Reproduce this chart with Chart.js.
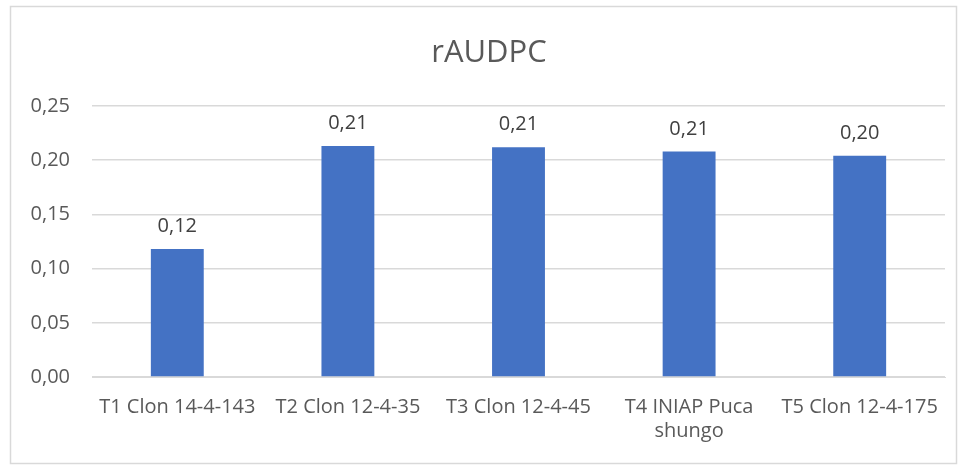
<!DOCTYPE html>
<html>
<head>
<meta charset="utf-8">
<script src="https://cdn.jsdelivr.net/npm/chart.js@4"></script>
<style>
  body { margin: 0; background: #fff; }
  #wrap { width: 958px; height: 465px; }
</style>
</head>
<body>
<div id="wrap"><canvas id="grafico"></canvas></div>
<script>
// categorias
const tratamientos = [
    ["T1 Clon 14-4-143"],
    ["T2 Clon 12-4-35"],
    ["T3 Clon 12-4-45"],
    ["T4 INIAP Puca", "shungo"],
    ["T5 Clon 12-4-175"]
];

// valores rAUDPC
const rAUDPC = [0.118, 0.213, 0.212, 0.208, 0.204];

// ticks eje y
const ticksY = [0, 0.05, 0.10, 0.15, 0.20, 0.25];

const titulo = "rAUDPC";

const coma = v => v.toFixed(2).replace(".", ",");

// borde, titulo y etiquetas de datos
const extras = {
    id: "extras",
    beforeDraw(chart) {
        const ctx = chart.ctx;
        ctx.save();
        ctx.strokeStyle = "#d9d9d9";
        ctx.lineWidth = 1.5;
        ctx.strokeRect(10.5, 6.5, 946, 457);
        ctx.fillStyle = "#595959";
        ctx.font = "31px 'Open Sans'";
        ctx.textAlign = "center";
        ctx.textBaseline = "alphabetic";
        ctx.fillText(titulo, 489, 62);
        ctx.restore();
    },
    afterDatasetsDraw(chart) {
        const ctx = chart.ctx;
        const meta = chart.getDatasetMeta(0);
        ctx.save();
        ctx.fillStyle = "#404040";
        ctx.font = "20px 'Open Sans'";
        ctx.textAlign = "center";
        ctx.textBaseline = "alphabetic";
        meta.data.forEach((bar, i) => {
            ctx.fillText(coma(rAUDPC[i]), bar.x, bar.y - 17);
        });
        ctx.restore();
    }
};

new Chart(document.getElementById("grafico"), {
    type: "bar",
    data: {
        labels: tratamientos,
        datasets: [{
            data: rAUDPC,
            backgroundColor: "#4472C4",
            categoryPercentage: 1,
            barPercentage: 0.31
        }]
    },
    options: {
        responsive: true,
        maintainAspectRatio: false,
        animation: false,
        layout: { padding: { left: 10, right: 13, top: 106, bottom: 0 } },
        plugins: {
            legend: { display: false },
            tooltip: { enabled: false },
            title: { display: false }
        },
        scales: {
            x: {
                afterFit(axis) { axis.height = 88; },
                grid: { display: false },
                border: { color: "#d9d9d9" },
                ticks: {
                    color: "#595959",
                    font: { family: "'Open Sans'", size: 20, lineHeight: 1.2 },
                    maxRotation: 0,
                    autoSkip: false,
                    padding: 10
                }
            },
            y: {
                min: 0,
                max: 0.25,
                afterFit(axis) { axis.width = 82; },
                afterBuildTicks(axis) {
                    axis.ticks = ticksY.map(v => ({ value: v }));
                },
                grid: { color: "#d9d9d9", lineWidth: 1.5, drawTicks: false },
                border: { display: false },
                ticks: {
                    color: "#595959",
                    font: { family: "'Open Sans'", size: 20 },
                    padding: 22,
                    callback: v => coma(v)
                }
            }
        }
    },
    plugins: [extras]
});
</script>
</body>
</html>
